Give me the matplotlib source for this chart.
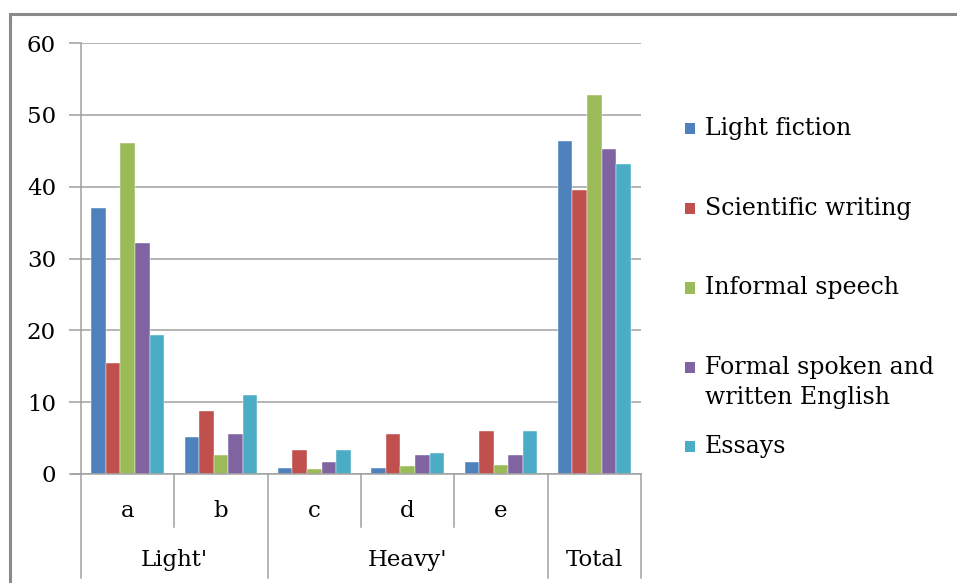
import matplotlib
matplotlib.use("Agg")
import matplotlib.pyplot as plt
from matplotlib.lines import Line2D
from matplotlib.patches import Rectangle

# Data
categories = ["a", "b", "c", "d", "e", ""]
groups = ["Light'", "Heavy'", "Total"]
series_names = ["Light fiction", "Scientific writing", "Informal speech",
                "Formal spoken and\nwritten English", "Essays"]
light_fiction = [37.0, 5.2, 0.9, 0.9, 1.7, 46.3]
scientific_writing = [15.4, 8.8, 3.4, 5.6, 6.0, 39.5]
informal_speech = [46.1, 2.7, 0.7, 1.1, 1.3, 52.7]
formal_english = [32.1, 5.6, 1.7, 2.7, 2.7, 45.2]
essays = [19.4, 11.0, 3.4, 2.9, 6.0, 43.1]

series = [light_fiction, scientific_writing, informal_speech, formal_english, essays]
colors = ["#4F81BD", "#C0504D", "#9BBB59", "#8064A2", "#4BACC6"]

W, H, DPI = 957, 583, 100
FS = 16.5
plt.rcParams["font.family"] = ["DejaVu Serif"]
fig = plt.figure(figsize=(W / DPI, H / DPI), dpi=DPI)

# plot area in pixels
x0, x1, y_top, y_bot = 81, 641, 43, 474
ax = fig.add_axes([x0 / W, (H - y_bot) / H, (x1 - x0) / W, (y_bot - y_top) / H])

grid_c = "#a0a0a0"
bw = 0.156
for i, (vals, c) in enumerate(zip(series, colors)):
    xs = [k + (i - 2) * bw for k in range(len(categories))]
    ax.bar(xs, vals, width=bw, color=c, edgecolor="white", linewidth=0.3, zorder=3)

ax.set_xlim(-0.5, len(categories) - 0.5)
ax.set_ylim(0, 60)
ax.set_yticks(range(0, 61, 10))
ax.yaxis.grid(True, color=grid_c, linewidth=1.1, zorder=0)
ax.tick_params(axis="y", length=9, width=1.1, color=grid_c, pad=9, labelsize=FS)
ax.tick_params(axis="x", length=0, labelbottom=False)
for s in ["top", "right", "bottom"]:
    ax.spines[s].set_visible(False)
ax.spines["left"].set_color(grid_c)
ax.spines["left"].set_linewidth(1.1)

# baseline extends to the tick marks
tr = ax.get_yaxis_transform()
ax.plot([-9 / (x1 - x0), 1], [0, 0], color=grid_c, lw=1.1, transform=tr,
        clip_on=False, zorder=4)

# multi-level category axis
xt = ax.get_xaxis_transform()
ah = y_bot - y_top
sub_end = -(527 - y_bot) / ah
grp_end = -(578 - y_bot) / ah
for b in [0.5, 2.5, 3.5]:
    ax.plot([b, b], [0, sub_end], color=grid_c, lw=1.1, transform=xt, clip_on=False)
for b in [-0.5, 1.5, 4.5, 5.5]:
    ax.plot([b, b], [0, grp_end], color=grid_c, lw=1.1, transform=xt, clip_on=False)

for k, lab in enumerate(categories):
    ax.text(k, -(511 - y_bot) / ah, lab, transform=xt, ha="center", va="center",
            fontsize=FS)
group_centers = [0.5, 3.0, 5.0]
for gx, g in zip(group_centers, groups):
    ax.text(gx, -(560 - y_bot) / ah, g, transform=xt, ha="center", va="center",
            fontsize=FS)

# legend
marker_y = [128, 208, 288, 367, 446]
text_y = [128, 208, 288, 382.5, 446]
for name, c, my, ty in zip(series_names, colors, marker_y, text_y):
    fig.add_artist(Rectangle((685 / W, (H - my - 5.5) / H), 10 / W, 11 / H,
                             facecolor=c, edgecolor="none", transform=fig.transFigure))
    fig.text(705 / W, (H - ty) / H, name, ha="left", va="center",
             fontsize=17, linespacing=1.4)

# outer frame
frame_c = "#8a8a8a"
fig.add_artist(Line2D([10 / W, 1], [(H - 14) / H] * 2, color=frame_c, lw=2.2,
                      transform=fig.transFigure))
fig.add_artist(Line2D([10 / W] * 2, [0, (H - 14) / H], color=frame_c, lw=2.2,
                      transform=fig.transFigure))

fig.savefig("out.png", dpi=DPI)
